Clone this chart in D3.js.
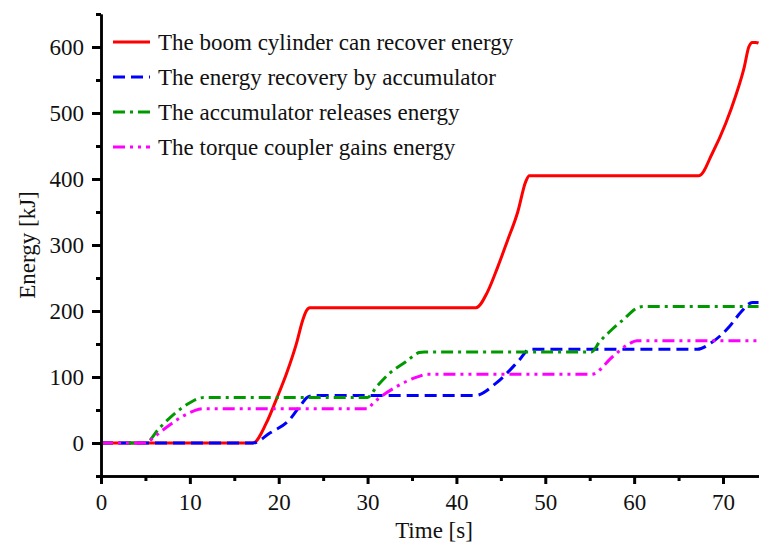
<!DOCTYPE html>
<html>
<head>
<meta charset="utf-8">
<script src="https://cdn.jsdelivr.net/npm/d3@7"></script>
<style>
  body { margin: 0; background: #fff; }
  svg text { font-family: "Liberation Serif", "Times New Roman", serif; fill: #111; }
</style>
</head>
<body>
<svg id="chart" width="759" height="547"></svg>
<script>
const width = 759;
const height = 547;

const margin = { top: 14, right: 0, bottom: 71, left: 101 };

/* DATA */
const seriesNames = [
  "The boom cylinder can recover energy",
  "The energy recovery by accumulator",
  "The accumulator releases energy",
  "The torque coupler gains energy"
];

const boomTime   = [0, 17.1, 18.6, 19.7, 20.9, 22.0, 22.7, 23.1, 23.5, 23.9, 42.2, 43.5, 44.6, 45.7, 46.9, 47.8, 48.2, 48.6, 67.3, 68.8, 70.3, 71.4, 72.4, 72.9, 73.3, 73.7, 74];
const boomEnergy = [0, 0, 30, 65, 106, 151, 186, 200, 205, 205, 205, 229, 265, 305, 350, 396, 405, 405, 405, 439, 484, 525, 570, 600, 607, 607, 606];

const accTime   = [0, 17.1, 19.0, 21.2, 22.5, 23.3, 24.0, 42.1, 44.5, 47.1, 48.2, 48.8, 67.1, 68.8, 70.7, 72.0, 73.3, 74];
const accEnergy = [0, 0, 15, 35, 58, 70, 72, 72, 91, 126, 142, 142, 142, 153, 176, 198, 213, 213];

const relTime   = [0, 5.0, 6.6, 8.5, 10.0, 11.1, 11.6, 30.0, 31.0, 32.5, 34.3, 35.8, 36.4, 55.2, 56.1, 57.5, 58.7, 60.6, 61.2, 74];
const relEnergy = [0, 0, 23, 47, 61, 68, 69, 69, 85, 106, 123, 137, 138, 138, 153, 172, 186, 206, 207, 207];

const torqTime   = [0, 5.0, 6.0, 7.0, 8.0, 9.0, 10.0, 11.0, 11.6, 30.0, 30.6, 33.2, 35.8, 36.6, 55.2, 57.6, 59.4, 60.3, 74];
const torqEnergy = [0, 0, 9, 20, 30, 39, 46, 51, 52, 52, 60, 85, 101, 104, 104, 131, 150, 155, 155];

const xTicks = [0, 10, 20, 30, 40, 50, 60, 70];
const xMinorTicks = [5, 15, 25, 35, 45, 55, 65];
const yTicks = [0, 100, 200, 300, 400, 500, 600];
const yMinorTicks = [-50, 50, 150, 250, 350, 450, 550, 650];

const series = [
  { name: seriesNames[0], time: boomTime, energy: boomEnergy, color: "#ff0000", dash: null },
  { name: seriesNames[1], time: accTime, energy: accEnergy, color: "#0000ff", dash: "12,6" },
  { name: seriesNames[2], time: relTime, energy: relEnergy, color: "#009900", dash: "12,5,3,5" },
  { name: seriesNames[3], time: torqTime, energy: torqEnergy, color: "#ff00ff", dash: "12,5,3,5,3,5" }
];

const fontSize = "23px";

/* SCALES */
const svg = d3.select("svg#chart");

const scales = {
  x: d3.scaleLinear().domain([0, 74]).range([margin.left, margin.left + 622 * 74 / 70]),
  y: d3.scaleLinear().domain([-50, 650]).range([height - margin.bottom, margin.top])
};

/* LINES */
const plot = svg.append("g").attr("id", "lines");

const line = d3.line()
  .x(d => scales.x(d[0]))
  .y(d => scales.y(d[1]))
  .curve(d3.curveMonotoneX);

series.forEach(s => {
  const pts = s.time.map((t, i) => [t, s.energy[i]]);
  plot.append("path")
    .datum(pts)
    .attr("d", line)
    .attr("fill", "none")
    .attr("stroke", s.color)
    .attr("stroke-width", 3)
    .attr("stroke-dasharray", s.dash);
});

/* AXES */
drawAxes();
drawTitles();
drawLegend();

function drawAxes() {
  const y0 = scales.y(-50);

  const axes = [
    { axis: d3.axisBottom(scales.x).tickValues(xMinorTicks).tickSize(5).tickFormat(""), t: translate(0, y0) },
    { axis: d3.axisBottom(scales.x).tickValues(xTicks).tickSize(8).tickPadding(10), t: translate(0, y0) },
    { axis: d3.axisLeft(scales.y).tickValues(yMinorTicks).tickSize(5).tickFormat(""), t: translate(margin.left, 0) },
    { axis: d3.axisLeft(scales.y).tickValues(yTicks).tickSize(9).tickPadding(8), t: translate(margin.left, 0) }
  ];

  axes.forEach(a => {
    const g = svg.append("g").attr("class", "axis").attr("transform", a.t)
      .call(a.axis.tickSizeOuter(0));
    g.select(".domain").attr("stroke", "#000").attr("stroke-width", 2.5);
    g.selectAll(".tick line").attr("stroke", "#000").attr("stroke-width", 3);
    g.selectAll(".tick text").style("font-size", fontSize);
  });
}

function drawTitles() {
  svg.append("text")
    .attr("x", 434)
    .attr("y", 538)
    .attr("text-anchor", "middle")
    .style("font-size", fontSize)
    .text("Time [s]");

  svg.append("text")
    .attr("transform", translate(35, 245) + " rotate(-90)")
    .attr("text-anchor", "middle")
    .style("font-size", fontSize)
    .text("Energy [kJ]");
}

function drawLegend() {
  const legend = svg.append("g").attr("id", "legend");
  series.forEach((s, i) => {
    const y = 42 + i * 35;
    legend.append("line")
      .attr("x1", 113).attr("x2", 150)
      .attr("y1", y).attr("y2", y)
      .attr("stroke", s.color)
      .attr("stroke-width", 3)
      .attr("stroke-dasharray", s.dash);
    legend.append("text")
      .attr("x", 158)
      .attr("y", y + 8)
      .style("font-size", fontSize)
      .text(s.name);
  });
}

function translate(x, y) {
  return "translate(" + String(x) + "," + String(y) + ")";
}
</script>
</body>
</html>
